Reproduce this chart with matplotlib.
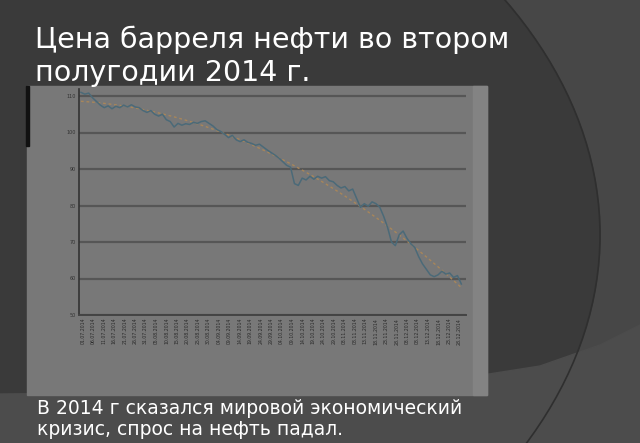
import numpy as np
import pandas as pd
import matplotlib
matplotlib.use("Agg")
import matplotlib.pyplot as plt
from matplotlib.patches import Ellipse, Rectangle, Polygon

# ---- data (Brent price, USD per barrel, 2nd half of 2014) ----
prices = [111, 110.5, 110.8, 109.5, 108.5, 107.5, 106.8, 107.3, 106.5, 107.2,
          106.8, 107.5, 107, 107.6, 107, 106.8, 106, 105.5, 106, 105,
          104.5, 105, 103.5, 103, 101.5, 102.5, 102, 102.4, 102.2, 102.8,
          102.5, 103, 103.2, 102.5, 101.8, 100.8, 100.3, 99.5, 98.6, 99.2,
          98, 97.5, 98, 97.3, 97, 96.5, 96.8, 96, 95.2, 94.5,
          93.8, 93, 92, 91, 90.5, 86, 85.5, 87.5, 87, 88,
          87.2, 88, 87.5, 87.9, 86.8, 86.5, 85.5, 84.8, 85.2, 84,
          84.5, 82, 79.5, 80.5, 79.8, 81, 80.5, 79.5, 77, 74,
          70, 69, 72, 73, 71, 69.5, 68.5, 66, 64, 62.5,
          61, 60.5, 61, 62, 61.2, 61.5, 60.3, 60.8, 58.5]
y_ticks = [50, 60, 70, 80, 90, 100, 110]
date_labels = list(pd.date_range("2014-07-01", periods=37, freq="5D").strftime("%d.%m.%Y"))

title = "Цена барреля нефти во втором\nполугодии 2014 г."
caption = "В 2014 г сказался мировой экономический\nкризис, спрос на нефть падал."

W, H = 640, 443
fig = plt.figure(figsize=(W / 100, H / 100), dpi=100)
fig.patch.set_facecolor("#3a3a3a")

# background slide decoration
bg = fig.add_axes([0, 0, 1, 1])
bg.set_xlim(0, W)
bg.set_ylim(H, 0)
bg.axis("off")
bg.add_patch(Rectangle((0, 0), W, H, color="#474747", zorder=0))
bg.add_patch(Ellipse((-200, 235), 1600, 994, color="#3a3a3a", zorder=1))
bg.add_patch(Ellipse((-200, 235), 1600, 994, fill=False, ec="#2f2f2f", lw=1.2, zorder=1.5))
bg.add_patch(Polygon([(0, 394), (120, 393), (250, 389), (380, 383), (470, 377),
                      (540, 366), (600, 345), (640, 325), (640, 443), (0, 443)],
                     closed=True, color="#4c4c4c", zorder=1.2))
# chart picture panel
bg.add_patch(Rectangle((27, 86), 460, 309, color="#787878", zorder=2))
bg.add_patch(Rectangle((473, 86), 14, 309, color="#838383", zorder=2.1))
bg.add_patch(Rectangle((26, 86), 3, 60, color="#111111", zorder=2.2))

bg.text(35, 26, title, fontsize=20.5, color="white", va="top", ha="left",
        linespacing=1.22, family="DejaVu Sans", zorder=5)
bg.text(37, 399, caption, fontsize=13.5, color="white", va="top", ha="left",
        linespacing=1.15, family="DejaVu Sans", zorder=5)

# chart axes
left, right, top, bottom = 79, 466, 88.7, 315
ax = fig.add_axes([left / W, 1 - bottom / H, (right - left) / W, (bottom - top) / H])
ax.set_facecolor("#787878")
x = np.arange(len(prices))
ax.set_xlim(-0.5, len(prices) - 1 + 1.2)
ax.set_ylim(50, 112)
for yv in y_ticks:
    ax.axhline(yv, color="#565656", lw=1.6, zorder=1)
ax.plot(x, prices, color="#4b6a78", lw=1.1, zorder=3)
coef = np.polyfit(x, prices, 2)
ax.plot(x, np.polyval(coef, x), color="#a8865a", lw=1.0, ls=(0, (2, 2)), zorder=2)

ax.set_yticks(y_ticks)
ax.set_yticklabels([str(v) for v in y_ticks], fontsize=3.5, color="#333333")
ax.set_xticks(np.linspace(0.5, len(prices) - 1.5, len(date_labels)))
ax.set_xticklabels(date_labels, rotation=90, fontsize=3.3, color="#2a2a2a")
ax.tick_params(axis="both", length=0, pad=2)
for s in ["top", "right"]:
    ax.spines[s].set_visible(False)
ax.spines["left"].set_color("#333333")
ax.spines["bottom"].set_color("#444444")
ax.spines["left"].set_linewidth(1.2)
ax.spines["bottom"].set_linewidth(1.4)

fig.savefig("out.png", dpi=100, facecolor=fig.get_facecolor())
